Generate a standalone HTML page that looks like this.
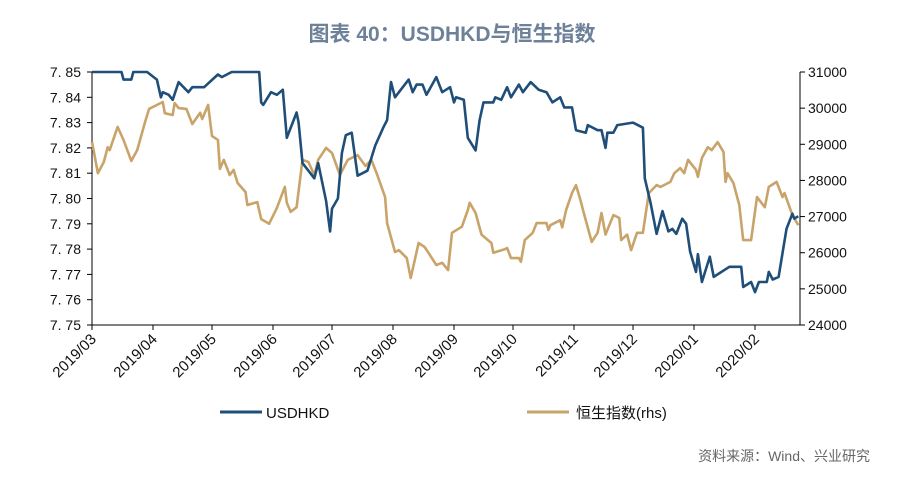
<!DOCTYPE html>
<html><head><meta charset="utf-8"><style>
body{margin:0;background:#fff;}
svg text{font-family:"Liberation Sans","Noto Sans CJK SC",sans-serif;}
</style></head><body>
<svg width="900" height="488" viewBox="0 0 900 488">
<text x="452" y="41" text-anchor="middle" font-size="21" font-weight="bold" fill="#6d8199">图表 40：USDHKD与恒生指数</text>
<g id="axes"></g>
<g id="series"></g>
<g>
<line x1="220" y1="412" x2="262" y2="412" stroke="#1f4e79" stroke-width="3"/>
<text x="266" y="418" font-size="15" fill="#111">USDHKD</text>
<line x1="527" y1="412" x2="569" y2="412" stroke="#c9a46a" stroke-width="3"/>
<text x="576" y="418" font-size="15" fill="#111">恒生指数(rhs)</text>
</g>
<text x="870" y="461" text-anchor="end" font-size="14" fill="#666">资料来源：Wind、兴业研究</text>
</svg>
<script>
const monthLabels=["2019/03","2019/04","2019/05","2019/06","2019/07","2019/08","2019/09","2019/10","2019/11","2019/12","2020/01","2020/02"];
const monthDays=[0,31,61,92,122,153,184,214,245,275,306,337];
const leftTicks=[7.85,7.84,7.83,7.82,7.81,7.80,7.79,7.78,7.77,7.76,7.75];
const rightTicks=[31000,30000,29000,28000,27000,26000,25000,24000];
const usdDays=[0,15,16,20,21,28,33,35,36,39,41,44,49,51,57,64,66,71,85,86,87,91,94,97,99,102,104,105,107,113,115,119,121,122,125,127,129,132,135,140,144,148,150,152,154,156,161,163,165,168,170,175,178,182,184,185,189,191,195,197,199,204,205,208,211,213,217,219,223,227,231,234,238,240,244,246,251,252,257,259,261,262,265,267,275,280,281,284,287,290,293,295,297,300,302,304,307,308,310,314,316,324,330,331,335,337,339,343,344,346,349,353,356,357,359];
const usdVals=[7.850,7.850,7.847,7.847,7.850,7.850,7.847,7.840,7.842,7.841,7.839,7.846,7.842,7.844,7.844,7.849,7.848,7.850,7.850,7.838,7.837,7.842,7.841,7.843,7.824,7.830,7.834,7.830,7.814,7.808,7.814,7.799,7.787,7.796,7.800,7.818,7.825,7.826,7.809,7.811,7.821,7.828,7.831,7.846,7.840,7.842,7.847,7.842,7.845,7.845,7.841,7.848,7.842,7.844,7.838,7.840,7.839,7.824,7.819,7.831,7.838,7.838,7.840,7.839,7.844,7.840,7.845,7.842,7.846,7.843,7.842,7.838,7.840,7.836,7.836,7.827,7.826,7.829,7.827,7.827,7.820,7.826,7.826,7.829,7.830,7.828,7.808,7.798,7.786,7.795,7.787,7.788,7.786,7.792,7.790,7.779,7.771,7.778,7.767,7.777,7.769,7.773,7.773,7.765,7.767,7.763,7.767,7.767,7.771,7.768,7.769,7.788,7.794,7.792,7.793];
const hsiDays=[0,3,6,8,9,13,16,20,23,27,29,36,37,41,42,44,48,51,55,56,59,61,64,65,67,70,72,74,78,79,84,86,90,94,98,99,101,104,107,110,113,115,119,122,126,130,135,139,142,145,149,150,154,156,160,162,166,169,171,175,178,181,183,188,191,192,195,198,203,204,210,211,213,217,218,220,224,226,231,232,233,238,239,241,244,246,248,250,254,257,259,261,265,268,269,272,274,277,280,283,287,289,294,296,299,301,303,307,308,310,313,315,318,321,322,323,326,329,331,335,338,342,344,348,351,352,356,359];
const hsiVals=[29065,28200,28510,28920,28840,29480,29120,28540,28840,29620,29980,30170,29860,29810,30140,30000,29980,29560,29870,29700,30090,29230,29120,28320,28570,28150,28290,27930,27680,27320,27400,26930,26800,27240,27820,27380,27130,27260,28570,28510,28150,28570,28900,28760,28150,28570,28700,28400,28570,28150,27540,26820,26020,26070,25850,25300,26270,26160,26000,25660,25720,25520,26550,26720,27180,27380,27100,26500,26270,26000,26100,26130,25850,25850,25750,26350,26550,26820,26820,26630,26760,26900,26700,27180,27650,27870,27510,27100,26300,26550,27100,26500,27040,26960,26350,26500,26070,26550,26550,27650,27870,27820,27960,28200,28340,28200,28570,28290,28100,28620,28920,28840,29060,28790,27960,28200,27930,27320,26350,26350,27540,27260,27820,27960,27540,27650,27040,26760];

const L=92,R=800,T=72,B=325,NS="http://www.w3.org/2000/svg";
const xS=d=>L+d*(755-92)/337;
const yL=v=>T+(7.85-v)/0.10*(B-T);
const yR=v=>T+(31000-v)/7000*(B-T);
const axes=document.getElementById('axes'),series=document.getElementById('series');
function mk(tag,attrs,parent){const e=document.createElementNS(NS,tag);for(const k in attrs)e.setAttribute(k,attrs[k]);parent.appendChild(e);return e;}
let e;
e=mk('line',{x1:L,y1:T,x2:L,y2:B,stroke:'#000','stroke-width':1},axes);


e=mk('line',{x1:R,y1:T,x2:R,y2:B,stroke:'#000','stroke-width':1},axes);


e=mk('line',{x1:L,y1:B,x2:R,y2:B,stroke:'#000','stroke-width':1},axes);


leftTicks.forEach(v=>{const y=yL(v);
 e=mk('line',{x1:L-5,y1:y,x2:L,y2:y,stroke:'#000'},axes);
 
 
 e=mk('text',{x:81,y:y+5,'text-anchor':'end','font-size':14,fill:'#111'},axes);
 e.textContent=v.toFixed(2).replace('.','. ');
 
 });
rightTicks.forEach(v=>{const y=yR(v);
 e=mk('line',{x1:R,y1:y,x2:R+5,y2:y,stroke:'#000'},axes);
 
 
 e=mk('text',{x:808,y:y+5,'font-size':14,fill:'#111'},axes);
 e.textContent=v;
 
 });
monthLabels.forEach((m,i)=>{const x=xS(monthDays[i]);
 e=mk('line',{x1:x,y1:B,x2:x,y2:B+5,stroke:'#000'},axes);
 
 
 e=mk('text',{x:x+5,y:B+15,'text-anchor':'end','font-size':15,fill:'#111',transform:`rotate(-45 ${x+5} ${B+15})`},axes);
 e.textContent=m;
 
 });
e=mk('polyline',{points:hsiDays.map((d,i)=>xS(d).toFixed(1)+','+yR(hsiVals[i]).toFixed(1)).join(' '),fill:'none',stroke:'#c9a46a','stroke-width':2.6,'stroke-linejoin':'round'},series);


e=mk('polyline',{points:usdDays.map((d,i)=>xS(d).toFixed(1)+','+yL(usdVals[i]).toFixed(1)).join(' '),fill:'none',stroke:'#1f4e79','stroke-width':2.6,'stroke-linejoin':'round'},series);


</script>
</body></html>
